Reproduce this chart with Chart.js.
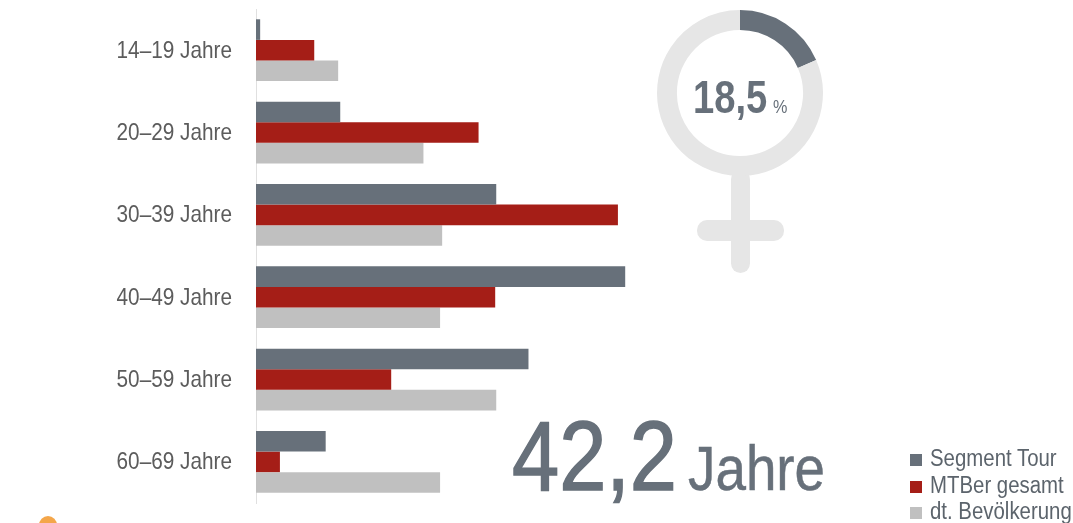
<!DOCTYPE html>
<html lang="de">
<head>
<meta charset="utf-8">
<title>Altersverteilung</title>
<script src="https://cdn.jsdelivr.net/npm/chart.js@4"></script>
<style>
    html, body { margin: 0; padding: 0; background: #fff; overflow: hidden; }
    #page { position: relative; width: 1073px; height: 523px; overflow: hidden; font-family: "Liberation Sans", sans-serif; color: #67707a; }
    canvas { position: absolute; }
    .abs { position: absolute; white-space: nowrap; line-height: 1; transform-origin: left top; }
    .sym { position: absolute; background: #e6e6e6; border-radius: 10px; }
    #legend { position: absolute; left: 910px; top: 445px; }
    #legend div { height: 26.5px; line-height: 26px; font-size: 23px; color: #5c646c; white-space: nowrap; }
    #legend i { display: inline-block; width: 12px; height: 12px; margin-right: 8px; }
    #legend span { display: inline-block; transform: scaleX(0.887); transform-origin: left center; }
</style>
</head>
<body>
<div id="page">
    <canvas id="barChart" width="1073" height="523" style="left:0;top:0"></canvas>

    <div class="sym" style="left:731px;top:170px;width:19px;height:103px"></div>
    <div class="sym" style="left:697px;top:220px;width:87px;height:21px"></div>
    <canvas id="ringChart" width="166" height="166" style="left:657px;top:10px"></canvas>
    <div class="abs" style="left:693px;top:74px;font-size:46px;font-weight:bold;transform:scaleX(0.83)">18,5</div>
    <div class="abs" style="left:773px;top:98px;font-size:18px;transform:scaleX(0.9)">%</div>

    <div class="abs" style="left:512px;top:407px;font-size:98px;-webkit-text-stroke:1.5px #67707a;transform:scaleX(0.865)">42,2</div>
    <div class="abs" style="left:688px;top:437px;font-size:63px;-webkit-text-stroke:0.5px #67707a;transform:scaleX(0.87)">Jahre</div>

    <div id="legend"></div>
    <div style="position:absolute;left:39px;top:516px;width:18px;height:18px;border-radius:50%;background:#f4a64a"></div>
</div>

<script>
const categories = ['14–19 Jahre', '20–29 Jahre', '30–39 Jahre', '40–49 Jahre', '50–59 Jahre', '60–69 Jahre'];
const segmentTour = [0.4, 8.1, 23.1, 35.5, 26.2, 6.7];
const mtberGesamt = [5.6, 21.4, 34.8, 23.0, 13.0, 2.3];
const bevoelkerung = [7.9, 16.1, 17.9, 17.7, 23.1, 17.7];
const frauenAnteil = [18.5, 81.5];

const GRAY = '#67707a';
const RED = '#a51e17';
const LIGHT = '#c0c0c0';

const barDatasets = [
    { label: 'Segment Tour', data: segmentTour, backgroundColor: GRAY },
    { label: 'MTBer gesamt', data: mtberGesamt, backgroundColor: RED },
    { label: 'dt. Bevölkerung', data: bevoelkerung, backgroundColor: LIGHT }
];

// No narrow font installed, so the category labels get squeezed by hand
const narrowLabels = {
    id: 'narrowLabels',
    afterDraw(chart) {
        const { ctx, scales: { y } } = chart;
        categories.forEach((label, i) => {
            ctx.save();
            ctx.translate(232, y.getPixelForValue(i) + 1);
            ctx.scale(0.865, 1);
            ctx.font = '24px "Liberation Sans", sans-serif';
            ctx.fillStyle = '#5c5c5c';
            ctx.textAlign = 'right';
            ctx.textBaseline = 'middle';
            ctx.fillText(label, 0, 0);
            ctx.restore();
        });
    }
};

new Chart(document.getElementById('barChart'), {
    type: 'bar',
    data: {
        labels: categories,
        datasets: barDatasets.map(d => ({ ...d, categoryPercentage: 0.75, barPercentage: 1, borderWidth: 0 }))
    },
    plugins: [narrowLabels],
    options: {
        indexAxis: 'y',
        responsive: false,
        animation: false,
        layout: { padding: { top: 9, bottom: 20, right: 89, left: 0 } },
        plugins: { legend: { display: false }, tooltip: { enabled: false } },
        scales: {
            x: { display: false, min: 0, max: 70 },
            y: {
                afterFit: (scale) => { scale.width = 256; },
                grid: { display: false, drawTicks: false },
                border: { display: true, color: '#e0e0e0', width: 1 },
                ticks: { display: false }
            }
        }
    }
});

new Chart(document.getElementById('ringChart'), {
    type: 'doughnut',
    data: {
        labels: ['Frauen', 'Männer'],
        datasets: [{ data: frauenAnteil, backgroundColor: [GRAY, '#e6e6e6'], borderWidth: 0 }]
    },
    options: {
        responsive: false,
        animation: false,
        cutout: '76%',
        plugins: { legend: { display: false }, tooltip: { enabled: false } }
    }
});

// Legend is plain html, the spot under the ring is outside what the chart legend can reach
const legendBox = document.getElementById('legend');
barDatasets.forEach(d => {
    const row = document.createElement('div');
    const swatch = document.createElement('i');
    swatch.style.background = d.backgroundColor;
    const text = document.createElement('span');
    text.textContent = d.label;
    row.appendChild(swatch);
    row.appendChild(text);
    legendBox.appendChild(row);
});
</script>
</body>
</html>
